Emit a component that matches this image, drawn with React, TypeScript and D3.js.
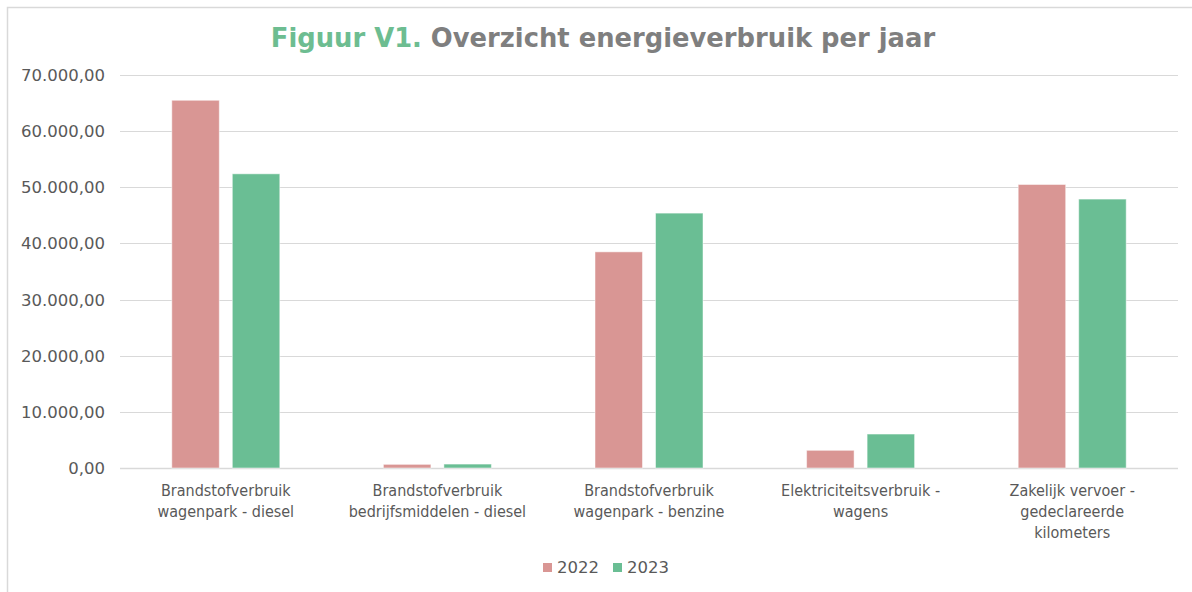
import React from 'react'
import * as d3 from 'd3'

const categories = [
  'Brandstofverbruik wagenpark - diesel',
  'Brandstofverbruik bedrijfsmiddelen - diesel',
  'Brandstofverbruik wagenpark - benzine',
  'Elektriciteitsverbruik - wagens',
  'Zakelijk vervoer - gedeclareerde kilometers',
]
const categoryLines = [
  ['Brandstofverbruik', 'wagenpark - diesel'],
  ['Brandstofverbruik', 'bedrijfsmiddelen - diesel'],
  ['Brandstofverbruik', 'wagenpark - benzine'],
  ['Elektriciteitsverbruik -', 'wagens'],
  ['Zakelijk vervoer -', 'gedeclareerde', 'kilometers'],
]
const years = ['2022', '2023']
const values2022 = [65500, 650, 38500, 3150, 50500]
const values2023 = [52400, 700, 45400, 6050, 47900]
const yTicks = [0, 10000, 20000, 30000, 40000, 50000, 60000, 70000]

const colors: Record<string, string> = { '2022': '#D99694', '2023': '#6ABE94' }

const W = 1192
const H = 592
const margin = { left: 120, right: 14, top: 75, bottom: 124 }

const nl = d3.formatLocale({ decimal: ',', thousands: '.', grouping: [3], currency: ['€', ''] })
const fmt = nl.format(',.2f')

export default function App() {
  const x0 = d3
    .scaleBand<string>()
    .domain(categories)
    .range([margin.left, W - margin.right])
    .padding(0)
  const x1 = d3
    .scaleBand<string>()
    .domain(years)
    .range([0, x0.bandwidth()])
    .paddingInner(0.215)
    .paddingOuter(0.856)
  const y = d3
    .scaleLinear()
    .domain([0, 70000])
    .range([H - margin.bottom, margin.top])

  const series: Record<string, number[]> = { '2022': values2022, '2023': values2023 }
  const axisFont = 'DejaVu Sans, Verdana, sans-serif'

  return (
    <svg
      width={W}
      height={H}
      style={{ position: 'absolute', left: 0, top: 0, background: '#fff' }}
    >
      {/* chart frame */}
      <rect x={7.5} y={7.5} width={W + 20} height={H + 20} fill="#fff" stroke="#D9D9D9" strokeWidth={1.5} />

      {/* title */}
      <text
        x={603}
        y={47}
        textAnchor="middle"
        fontFamily="DejaVu Sans, sans-serif"
        fontWeight="bold"
        fontSize={25.8}
        fill="#7F7F7F"
      >
        <tspan fill="#6DBD91">Figuur V1.</tspan> Overzicht energieverbruik per jaar
      </text>

      {/* gridlines + y labels */}
      {yTicks.map((t) => (
        <g key={t}>
          <line
            x1={margin.left}
            x2={W - margin.right}
            y1={Math.round(y(t)) + 0.5}
            y2={Math.round(y(t)) + 0.5}
            stroke="#D9D9D9"
            strokeWidth={t === 0 ? 1.5 : 1}
          />
          <text
            x={105}
            y={y(t) + 6}
            textAnchor="end"
            fontFamily={axisFont}
            fontSize={16.5}
            fill="#595959"
          >
            {fmt(t)}
          </text>
        </g>
      ))}

      {/* bars */}
      {categories.map((c, i) => (
        <g key={c} transform={`translate(${x0(c)},0)`}>
          {years.map((yr) => {
            const v = series[yr][i]
            return (
              <rect
                key={yr}
                x={x1(yr)}
                y={y(v)}
                width={x1.bandwidth()}
                height={y(0) - y(v)}
                fill={colors[yr]}
                stroke="#fff"
                strokeOpacity={0.5}
                strokeWidth={1}
              />
            )
          })}
        </g>
      ))}

      {/* x labels */}
      {categories.map((c, i) => (
        <text
          key={c}
          x={(x0(c) ?? 0) + x0.bandwidth() / 2}
          y={496}
          textAnchor="middle"
          fontFamily="DejaVu Sans Condensed, DejaVu Sans, sans-serif"
          fontSize={16}
          fill="#595959"
        >
          {categoryLines[i].map((line, j) => (
            <tspan key={j} x={(x0(c) ?? 0) + x0.bandwidth() / 2} dy={j === 0 ? 0 : 21}>
              {line}
            </tspan>
          ))}
        </text>
      ))}

      {/* legend */}
      {years.map((yr, i) => (
        <g key={yr} transform={`translate(${543 + i * 70},563)`}>
          <rect width={9} height={9} fill={colors[yr]} />
          <text x={14} y={10} fontFamily={axisFont} fontSize={16.5} fill="#595959">
            {yr}
          </text>
        </g>
      ))}
    </svg>
  )
}
